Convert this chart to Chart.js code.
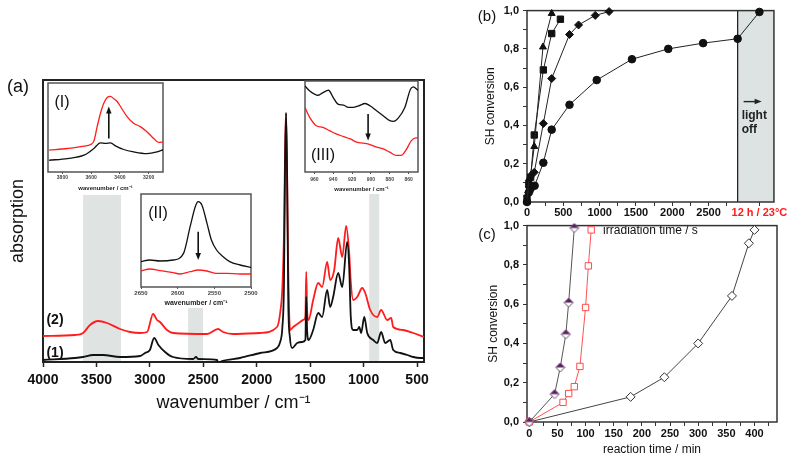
<!DOCTYPE html>
<html>
<head>
<meta charset="utf-8">
<script src="https://cdn.jsdelivr.net/npm/chart.js@4.4.1/dist/chart.umd.min.js"></script>
<style>
  html, body { margin: 0; padding: 0; background: #fff; }
  #wrap { position: relative; width: 788px; height: 457px; overflow: hidden; font-family: "Liberation Sans", Arial, sans-serif; }
  canvas { position: absolute; }
  .lbl { position: absolute; color: #111; white-space: nowrap; line-height: 1; transform: translate(-50%, -50%); }
</style>
</head>
<body>
<div id="wrap">
  <canvas id="main" width="440" height="420" style="left:0;top:0"></canvas>
  <canvas id="ins1" width="125" height="116" style="left:45px;top:80px"></canvas>
  <canvas id="ins2" width="145" height="120" style="left:125px;top:190px"></canvas>
  <canvas id="ins3" width="125" height="123" style="left:300px;top:77px"></canvas>
  <canvas id="chartB" width="310" height="240" style="left:478px;top:0"></canvas>
  <canvas id="chartC" width="310" height="242" style="left:478px;top:215px"></canvas>

  <div class="lbl" style="left:18px;top:86px;font-size:18px">(a)</div>
  <div class="lbl" style="left:487px;top:15px;font-size:15px">(b)</div>
  <div class="lbl" style="left:487px;top:233px;font-size:15px">(c)</div>
  <div class="lbl" style="left:62px;top:102px;font-size:16px">(I)</div>
  <div class="lbl" style="left:158px;top:213px;font-size:16px">(II)</div>
  <div class="lbl" style="left:323px;top:155px;font-size:16px">(III)</div>
  <div class="lbl" style="left:55px;top:319px;font-size:14px;font-weight:bold">(2)</div>
  <div class="lbl" style="left:55px;top:352px;font-size:14px;font-weight:bold">(1)</div>
</div>
<script>
// ---- (a) IR spectra, absorption in arbitrary units ----
const spec1Wn = [4000, 3700, 3625, 3532, 3438, 3279, 3092, 3045, 3000, 2960, 2920, 2858, 2783, 2595, 2568, 2549, 2371, 2362, 2324, 2156,
  1968, 1810, 1781, 1760, 1745, 1735, 1725, 1715, 1705, 1690, 1669, 1622, 1575, 1545, 1537, 1528, 1515, 1472, 1425, 1388,
  1341, 1313, 1285, 1238, 1200, 1154, 1135, 1120, 1098, 1060, 1041, 1023, 994, 966, 910, 873, 836, 798, 751, 723,
  657, 592, 536, 470, 435];
const spec1Abs = [2, 4, 5, 7, 7, 5, 6, 9, 12, 24, 17, 10, 5, 3, 5, 3, 2, -1, 1, 4,
  9, 14, 20, 35, 80, 200, 249, 180, 60, 25, 14, 19, 20, 22, 65, 30, 22, 32, 49, 45,
  72, 55, 65, 89, 75, 120, 95, 45, 32, 32, 35, 29, 45, 29, 22, 19, 30, 19, 22, 12,
  9, 7, 5, 4, 4];
const spec2Wn = [4000, 3700, 3625, 3560, 3485, 3400, 3279, 3185, 3092, 3026, 2970, 2933, 2905, 2840, 2783, 2465, 2362, 2315, 2222, 1968,
  1810, 1781, 1760, 1745, 1735, 1727, 1717, 1705, 1688, 1659, 1594, 1566, 1545, 1537, 1528, 1515, 1472, 1425, 1388, 1341,
  1313, 1275, 1238, 1200, 1163, 1135, 1120, 1098, 1060, 1013, 985, 938, 873, 836, 779, 742, 723, 629, 536, 435];
const spec2Abs = [26, 27, 29, 37, 41, 39, 33, 30, 29, 30, 48, 42, 40, 32, 29, 28, 33, 30, 28, 29,
  35, 49, 75, 130, 210, 249, 190, 90, 32, 35, 40, 42, 45, 90, 50, 42, 62, 79, 75, 100,
  82, 92, 124, 105, 136, 109, 80, 62, 65, 74, 69, 52, 45, 52, 42, 44, 35, 32, 29, 25];
const mainTicks = [4000, 3500, 3000, 2500, 2000, 1500, 1000, 500];
// shaded regions (from, to, top)
const bandFrom = [3625, 2642, 948];
const bandTo = [3270, 2502, 854];
const bandTop = [167, 54, 168];

// ---- insets ----
const in1RedWn = [3892, 3765, 3650, 3604, 3581, 3558, 3535, 3512, 3488, 3465, 3442, 3419, 3396, 3350, 3304, 3258, 3212, 3165, 3131, 3096];
const in1RedAbs = [65, 70, 77, 82, 92, 135, 175, 205, 222, 225, 218, 210, 195, 165, 145, 135, 120, 100, 88, 90];
const in1BlkWn = [3892, 3765, 3650, 3581, 3535, 3500, 3465, 3431, 3373, 3304, 3212, 3142, 3096];
const in1BlkAbs = [35, 40, 50, 70, 87, 85, 87, 78, 67, 60, 55, 60, 67];
const in1Ticks = [3800, 3600, 3400, 3200];

const in2BlkWn = [2650, 2638, 2624, 2606, 2592, 2583, 2576, 2572, 2567, 2560, 2554, 2547, 2538, 2529, 2515, 2500];
const in2BlkAbs = [76, 81, 78, 81, 101, 181, 241, 256, 246, 191, 141, 111, 91, 76, 66, 59];
const in2RedWn = [2650, 2638, 2624, 2606, 2597, 2583, 2572, 2560, 2547, 2533, 2515, 2500];
const in2RedAbs = [48, 54, 49, 43, 39, 46, 51, 48, 41, 41, 39, 39];
const in2Ticks = [2650, 2600, 2550, 2500];

const in3BlkWn = [970, 965, 956, 951, 945, 940, 935, 929, 924, 919, 913, 906, 901, 894, 887, 880, 876, 871, 864, 858, 855, 850];
const in3BlkAbs = [260, 245, 232, 240, 247, 225, 205, 202, 195, 195, 200, 207, 200, 185, 170, 155, 153, 163, 195, 250, 257, 247];
const in3RedWn = [970, 965, 958, 951, 944, 937, 929, 922, 915, 908, 901, 894, 887, 880, 873, 868, 863, 857, 852, 850];
const in3RedAbs = [195, 165, 140, 135, 125, 115, 107, 100, 90, 87, 83, 75, 70, 60, 50, 50, 65, 95, 103, 103];
const in3Ticks = [960, 940, 920, 900, 880, 860];

// ---- (b) SH conversion vs irradiation time ----
const triT = [0, 25, 50, 100, 220, 340];
const triC = [0.00, 0.12, 0.14, 0.29, 0.81, 0.985];
const sqT = [0, 25, 50, 100, 225, 340, 460];
const sqC = [0.02, 0.09, 0.13, 0.35, 0.69, 0.88, 0.955];
const diaT = [0, 25, 50, 100, 225, 340, 585, 710, 940, 1130];
const diaC = [0.00, 0.05, 0.09, 0.155, 0.41, 0.645, 0.875, 0.925, 0.975, 0.995];
const circT = [0, 25, 50, 105, 225, 340, 585, 960, 1445, 1945, 2425, 2900, 3200];
const circC = [0.00, 0.05, 0.07, 0.085, 0.205, 0.378, 0.508, 0.637, 0.746, 0.80, 0.83, 0.853, 0.993];
const lightOffAt = 2900;
const darkPointAt = 3200; // plotted position of the "12 h / 23°C" point
const bTicks = [0, 250, 500, 750, 1000, 1250, 1500, 1750, 2000, 2250, 2500, 2750, 3200];

// ---- (c) SH conversion vs reaction time ----
const purT = [0, 45, 55, 65, 70, 80];
const purC = [0.00, 0.142, 0.278, 0.447, 0.608, 0.988];
const redT = [0, 60, 70, 80, 90, 100, 105, 110];
const redC = [0.00, 0.10, 0.145, 0.18, 0.283, 0.583, 0.795, 0.978];
const blkT = [0, 180, 240, 300, 360, 390, 400];
const blkC = [0.00, 0.128, 0.228, 0.40, 0.642, 0.91, 0.978];
const cTicks = [0, 25, 50, 75, 100, 125, 150, 175, 200, 225, 250, 275, 300, 325, 350, 375, 400, 425];
const convTicks = [0, 0.1, 0.2, 0.3, 0.4, 0.5, 0.6, 0.7, 0.8, 0.9, 1.0];

const FONT = '"Liberation Sans", Arial, sans-serif';
const RED = '#ff1c1c';
const INK = '#111';
Chart.defaults.font.family = FONT;
Chart.defaults.color = INK;

const pts = (xs, ys) => xs.map((x, i) => ({ x, y: ys[i] }));
const fixTicks = list => s => { s.ticks = list.map(v => ({ value: v })); };
const plain = v => String(v);
const comma = v => v.toFixed(1).replace('.', ',');

// white fill behind plot area + box frame
function framePlugin(color, width, fill) {
  return {
    id: 'frame',
    beforeDraw(chart) {
      if (!fill) return;
      const a = chart.chartArea, ctx = chart.ctx;
      ctx.save();
      ctx.fillStyle = '#fff';
      ctx.fillRect(a.left, a.top, a.right - a.left, a.bottom - a.top);
      ctx.restore();
    },
    beforeDatasetsDraw(chart) {
      const a = chart.chartArea, ctx = chart.ctx;
      ctx.save();
      ctx.strokeStyle = color;
      ctx.lineWidth = width;
      ctx.strokeRect(a.left, a.top, a.right - a.left, a.bottom - a.top);
      ctx.restore();
    }
  };
}

const bandsPlugin = {
  id: 'bands',
  beforeDatasetsDraw(chart) {
    const { ctx, chartArea, scales: { x, y } } = chart;
    ctx.save();
    ctx.fillStyle = '#dfe4e3';
    bandFrom.forEach((f, i) => {
      const x1 = x.getPixelForValue(f), x2 = x.getPixelForValue(bandTo[i]);
      const yt = y.getPixelForValue(bandTop[i]);
      ctx.fillRect(Math.min(x1, x2), yt, Math.abs(x2 - x1), chartArea.bottom - yt);
    });
    ctx.restore();
  }
};

function drawArrow(ctx, x1, y1, x2, y2, head) {
  const ang = Math.atan2(y2 - y1, x2 - x1);
  ctx.beginPath();
  ctx.moveTo(x1, y1);
  ctx.lineTo(x2 - Math.cos(ang) * head, y2 - Math.sin(ang) * head);
  ctx.stroke();
  ctx.beginPath();
  ctx.moveTo(x2, y2);
  ctx.lineTo(x2 - Math.cos(ang) * head * 1.4 + Math.sin(ang) * head * 0.55, y2 - Math.sin(ang) * head * 1.4 - Math.cos(ang) * head * 0.55);
  ctx.lineTo(x2 - Math.cos(ang) * head * 1.4 - Math.sin(ang) * head * 0.55, y2 - Math.sin(ang) * head * 1.4 + Math.cos(ang) * head * 0.55);
  ctx.closePath();
  ctx.fill();
}

function arrowPlugin(at, from, to) {
  return {
    id: 'arrow',
    afterDatasetsDraw(chart) {
      const { ctx, scales: { x, y } } = chart;
      const px = x.getPixelForValue(at);
      ctx.save();
      ctx.strokeStyle = ctx.fillStyle = INK;
      ctx.lineWidth = 1.6;
      drawArrow(ctx, px, y.getPixelForValue(from), px, y.getPixelForValue(to), 5);
      ctx.restore();
    }
  };
}

const line = (data, color, width) => ({
  data, borderColor: color, borderWidth: width, pointRadius: 0, cubicInterpolationMode: 'monotone'
});

// ---- main spectrum (a) ----
new Chart(document.getElementById('main'), {
  type: 'line',
  data: {
    datasets: [
      line(pts(spec1Wn, spec1Abs), INK, 1.8),
      line(pts(spec2Wn, spec2Abs), RED, 1.8)
    ]
  },
  options: {
    responsive: false, animation: false, events: [],
    layout: { padding: { top: 80, right: 16, left: 0, bottom: 0 } },
    plugins: { legend: { display: false }, tooltip: { enabled: false } },
    scales: {
      x: {
        type: 'linear', reverse: true, min: 435, max: 4000,
        afterBuildTicks: fixTicks(mainTicks),
        afterFit: s => { s.height = 58; },
        border: { display: false },
        grid: { drawOnChartArea: false, tickLength: 5, tickColor: '#222', tickWidth: 1.5 },
        ticks: { font: { size: 14, weight: 'bold' }, color: INK, padding: 5, maxRotation: 0, autoSkip: false, callback: plain },
        title: { display: true, text: 'wavenumber / cm\u207B\u00B9', font: { size: 18 }, color: INK, padding: { top: 0, bottom: 6 } }
      },
      y: {
        min: 0, max: 282,
        afterFit: s => { s.width = 43; },
        border: { display: false },
        grid: { display: false },
        ticks: { display: false },
        title: { display: true, text: 'absorption', font: { size: 18 }, color: INK, padding: { top: 7, bottom: 0 } }
      }
    }
  },
  plugins: [bandsPlugin, framePlugin('#222', 2, false)]
});

// ---- insets ----
function inset(id, blk, red, xmin, xmax, ymax, ticks, pad, axisH, tickSize, titleSize, tickPad, titlePad, arrow) {
  new Chart(document.getElementById(id), {
    type: 'line',
    data: { datasets: [line(blk, INK, 1.3), line(red, RED, 1.3)] },
    options: {
      responsive: false, animation: false, events: [],
      layout: { padding: pad },
      plugins: { legend: { display: false }, tooltip: { enabled: false } },
      scales: {
        x: {
          type: 'linear', reverse: true, min: xmin, max: xmax,
          afterBuildTicks: fixTicks(ticks),
          afterFit: s => { s.height = axisH; },
          border: { display: false },
          grid: { drawOnChartArea: false, tickLength: 2, tickColor: '#555' },
          ticks: { font: { size: tickSize, weight: 'bold' }, color: '#444', padding: tickPad, maxRotation: 0, autoSkip: false, callback: plain },
          title: { display: true, text: 'wavenumber / cm\u207B\u00B9', font: { size: titleSize, weight: 'bold' }, color: '#222', padding: { top: 0, bottom: titlePad } }
        },
        y: { display: false, min: 0, max: ymax }
      }
    },
    plugins: [framePlugin('#555', 1.5, true), arrowPlugin(arrow[0], arrow[1], arrow[2])]
  });
}

inset('ins1', pts(in1BlkWn, in1BlkAbs), pts(in1RedWn, in1RedAbs), 3100, 3900, 265, in1Ticks,
  { left: 3, top: 3, right: 7, bottom: 0 }, 24, 5, 6, 1, 4, [3477, 100, 195]);
inset('ins2', pts(in2BlkWn, in2BlkAbs), pts(in2RedWn, in2RedAbs), 2500, 2650, 279, in2Ticks,
  { left: 16, top: 4, right: 19, bottom: 0 }, 23, 6, 7, 1, 3, [2572, 166, 81]);
inset('ins3', pts(in3BlkWn, in3BlkAbs), pts(in3RedWn, in3RedAbs), 850, 970, 275, in3Ticks,
  { left: 5, top: 4, right: 7, bottom: 0 }, 28, 5, 6, 3, 7, [903, 175, 95]);

// ---- (b) ----
const lightOffPlugin = {
  id: 'lightoff',
  beforeDatasetsDraw(chart) {
    const { ctx, chartArea: a, scales: { x } } = chart;
    const x0 = x.getPixelForValue(lightOffAt);
    ctx.save();
    ctx.fillStyle = '#dde3e3';
    ctx.fillRect(x0, a.top, a.right - x0, a.bottom - a.top);
    ctx.strokeStyle = '#222';
    ctx.lineWidth = 1.3;
    ctx.beginPath();
    ctx.moveTo(x0, a.top);
    ctx.lineTo(x0, a.bottom);
    ctx.stroke();
    ctx.fillStyle = '#222';
    ctx.lineWidth = 1.4;
    drawArrow(ctx, x0 + 6, a.top + 91, x0 + 24, a.top + 91, 5);
    ctx.font = 'bold 12px ' + FONT;
    ctx.textBaseline = 'middle';
    ctx.fillText('light', x0 + 4, a.top + 105);
    ctx.fillText('off', x0 + 4, a.top + 119);
    ctx.restore();
  }
};

const marker = (data, style, fill, stroke, r) => ({
  data, borderColor: '#222', borderWidth: 1, pointStyle: style, pointRadius: r,
  pointBackgroundColor: fill, pointBorderColor: stroke, pointBorderWidth: 1, clip: false
});

const convAxis = (titlePad) => ({
  min: 0, max: 1,
  afterBuildTicks: fixTicks(convTicks),
  afterFit: s => { s.width = 49; },
  border: { display: false },
  grid: { drawOnChartArea: false, tickLength: 4, tickColor: '#333' },
  ticks: {
    font: { size: 11, weight: 'bold' }, color: INK, padding: 4, autoSkip: false,
    callback: v => (Math.round(v * 10) % 2 === 0 ? comma(v) : '')
  },
  title: { display: true, text: 'SH conversion', font: { size: 12 }, color: INK, padding: { top: titlePad, bottom: 0 } }
});

new Chart(document.getElementById('chartB'), {
  type: 'line',
  data: {
    datasets: [
      marker(pts(triT, triC), 'triangle', INK, INK, 4),
      marker(pts(sqT, sqC), 'rect', INK, INK, 4.5),
      marker(pts(diaT, diaC), 'rectRot', INK, INK, 4),
      marker(pts(circT, circC), 'circle', INK, INK, 3.8)
    ]
  },
  options: {
    responsive: false, animation: false, events: [],
    layout: { padding: { top: 6, right: 12, left: 0, bottom: 0 } },
    plugins: { legend: { display: false }, tooltip: { enabled: false } },
    scales: {
      x: {
        type: 'linear', min: 0, max: 3400,
        afterBuildTicks: fixTicks(bTicks),
        afterFit: s => { s.height = 38; },
        border: { display: false },
        grid: { drawOnChartArea: false, tickLength: 4, tickColor: '#333' },
        ticks: {
          font: { size: 11, weight: 'bold' }, padding: 0, maxRotation: 0, autoSkip: false,
          color: c => (c.tick && c.tick.value === darkPointAt ? RED : INK),
          callback: v => (v === darkPointAt ? '12 h / 23°C' : (v % 500 === 0 ? String(v) : ''))
        },
        title: { display: true, text: 'irradiation time / s', font: { size: 12 }, color: INK, padding: { top: 0, bottom: 2 } }
      },
      y: convAxis(5)
    }
  },
  plugins: [lightOffPlugin, framePlugin('#333', 1.5, false)]
});

// ---- (c) ----
function halfDiamond(r, color) {
  const c = document.createElement('canvas');
  const s = Math.ceil(2 * r + 2);
  c.width = c.height = s;
  const g = c.getContext('2d');
  const m = s / 2;
  g.beginPath();
  g.moveTo(m, m - r); g.lineTo(m + r, m); g.lineTo(m, m + r); g.lineTo(m - r, m);
  g.closePath();
  g.fillStyle = '#fff';
  g.fill();
  g.save();
  g.clip();
  g.fillStyle = color;
  g.fillRect(0, 0, s, m);
  g.restore();
  g.strokeStyle = '#6a4a72';
  g.lineWidth = 1;
  g.stroke();
  return c;
}

new Chart(document.getElementById('chartC'), {
  type: 'line',
  data: {
    datasets: [
      Object.assign(marker(pts(purT, purC), halfDiamond(4.5, '#5a1d5e'), '#fff', '#5a1d5e', 4.5), { borderColor: '#555' }),
      Object.assign(marker(pts(redT, redC), 'rect', '#fff', '#ff4a4a', 4.5), { borderColor: '#ff5252' }),
      Object.assign(marker(pts(blkT, blkC), 'rectRot', '#fff', '#333', 4.5), { borderColor: '#444' })
    ]
  },
  options: {
    responsive: false, animation: false, events: [],
    layout: { padding: { top: 7, right: 11, left: 0, bottom: 0 } },
    plugins: { legend: { display: false }, tooltip: { enabled: false } },
    scales: {
      x: {
        type: 'linear', min: -4, max: 440,
        afterBuildTicks: fixTicks(cTicks),
        afterFit: s => { s.height = 35; },
        border: { display: false },
        grid: { drawOnChartArea: false, tickLength: 4, tickColor: '#333' },
        ticks: {
          font: { size: 11, weight: 'bold' }, color: INK, padding: 1, maxRotation: 0, autoSkip: false,
          callback: v => (v % 50 === 0 ? String(v) : '')
        },
        title: { display: true, text: 'reaction time / min', font: { size: 12 }, color: INK, padding: { top: 0, bottom: 0 } }
      },
      y: convAxis(8)
    }
  },
  plugins: [framePlugin('#333', 1.5, false)]
});
</script>
</body>
</html>
